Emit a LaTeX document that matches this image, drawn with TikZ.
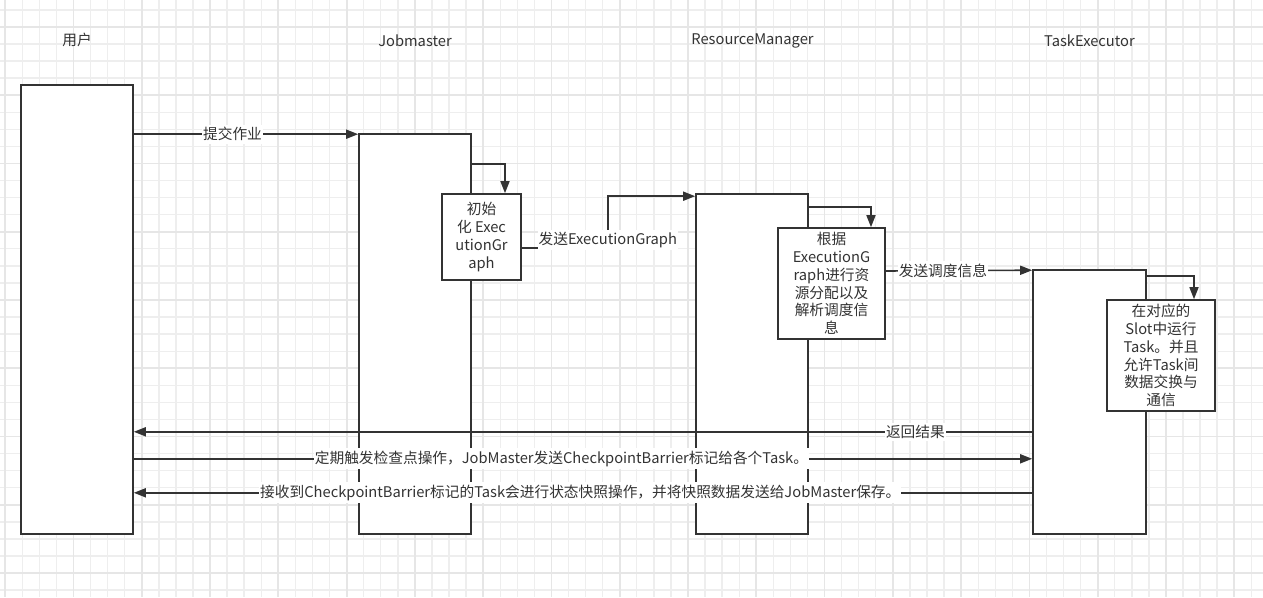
\documentclass[tikz,border=0pt]{standalone}
\usepackage{fontspec}
\setmainfont{Noto Sans CJK SC}
\usetikzlibrary{arrows.meta,calc}
\definecolor{ink}{HTML}{333333}
\definecolor{gridminor}{HTML}{EEEEEE}
\definecolor{gridmajor}{HTML}{E6E6E6}
\begin{document}
\begin{tikzpicture}[x=1pt,y=-1pt,
  every node/.style={font=\fontsize{14.7}{17.8}\selectfont, text=ink},
  lane/.style={draw=ink, line width=1.6pt, fill=white, inner sep=0pt},
  proc/.style={draw=ink, line width=1.6pt, fill=white, align=center, inner sep=0pt},
  head/.style={inner sep=0pt},
  msg/.style={draw=ink, line width=1.6pt, -{Triangle[length=12pt,width=9pt]}},
  lbl/.style={fill=white, inner xsep=1pt, inner ysep=2.5pt}]
\useasboundingbox (0,0) rectangle (1263,597);
\fill[white] (0,0) rectangle (1263,597);
% grid
\foreach \i in {0,...,74} {
  \pgfmathsetmacro{\gx}{5.2+17.07*\i}
  \draw[gridminor, line width=1.4pt] (\gx,0) -- (\gx,597);
}
\foreach \i in {0,...,35} {
  \pgfmathsetmacro{\gy}{9.8+17.07*\i}
  \draw[gridminor, line width=1.4pt] (0,\gy) -- (1263,\gy);
}
\foreach \i in {0,...,18} {
  \pgfmathsetmacro{\gx}{5.2+68.28*\i}
  \draw[gridmajor, line width=1.8pt] (\gx,0) -- (\gx,597);
}
\foreach \i in {0,...,8} {
  \pgfmathsetmacro{\gy}{26.9+68.28*\i}
  \draw[gridmajor, line width=1.8pt] (0,\gy) -- (1263,\gy);
}
% headings
\node[head] (hUser) at (77,40) {用户};
\node[head] (hJm) at (415,40.5) {Jobmaster};
\node[head] (hRm) at (752.5,40.5) {ResourceManager};
\node[head] (hTe) at (1089.5,40.5) {TaskExecutor};
% lanes
\node[lane, minimum width=112pt, minimum height=449pt] (user) at (77,309.5) {};
\node[lane, minimum width=112pt, minimum height=400pt] (jm) at (415,334) {};
\node[lane, minimum width=112pt, minimum height=340pt] (rm) at (752,364) {};
\node[lane, minimum width=113pt, minimum height=264pt] (te) at (1089.5,402) {};
% inner process boxes
\node[proc, minimum width=79pt, minimum height=86pt] (init) at (481.5,237) {初始\\化 Exec\\utionGr\\aph};
\node[proc, minimum width=107pt, minimum height=111pt] (rmi) at (831.5,283.5) {根据\\ExecutionG\\raph进行资\\源分配以及\\解析调度信\\息};
\node[proc, minimum width=108pt, minimum height=111pt] (tei) at (1161,355.5) {在对应的\\Slot中运行\\Task。并且\\允许Task间\\数据交换与\\通信};
% messages
\draw[msg] ($(user.north east)+(0,50)$) -- node[lbl,pos=0.44] {提交作业} ($(jm.north west)+(0,1)$);
\draw[msg] ($(jm.north east)+(0,31)$) -| ($(init.north)+(23.5,0)$);
\draw[msg] ($(init.east)+(0,11)$) -- ++(86,0) node[lbl, yshift=8pt] {发送ExecutionGraph} |- ($(rm.north west)+(0,3)$);
\draw[msg] ($(rm.north east)+(0,14)$) -| ($(rmi.north)+(39.5,0)$);
\draw[msg] ($(rmi.east)+(0,-12.5)$) -- node[lbl,pos=0.39] {发送调度信息} ($(te.north west)+(0,1)$);
\draw[msg] ($(te.north east)+(0,7)$) -| ($(tei.north)+(33,0)$);
\draw[msg] ($(te.south west)+(0,-103)$) -- node[lbl,pos=0.13] {返回结果} ($(user.south east)+(0,-103)$);
\draw[msg] ($(user.south east)+(0,-76)$) -- node[lbl,pos=0.476] {定期触发检查点操作，JobMaster发送CheckpointBarrier标记给各个Task。} ($(te.south west)+(0,-76)$);
\draw[msg] ($(te.south west)+(0,-42)$) -- node[lbl,pos=0.503] {接收到CheckpointBarrier标记的Task会进行状态快照操作，并将快照数据发送给JobMaster保存。} ($(user.south east)+(0,-42)$);
\end{tikzpicture}
\end{document}
